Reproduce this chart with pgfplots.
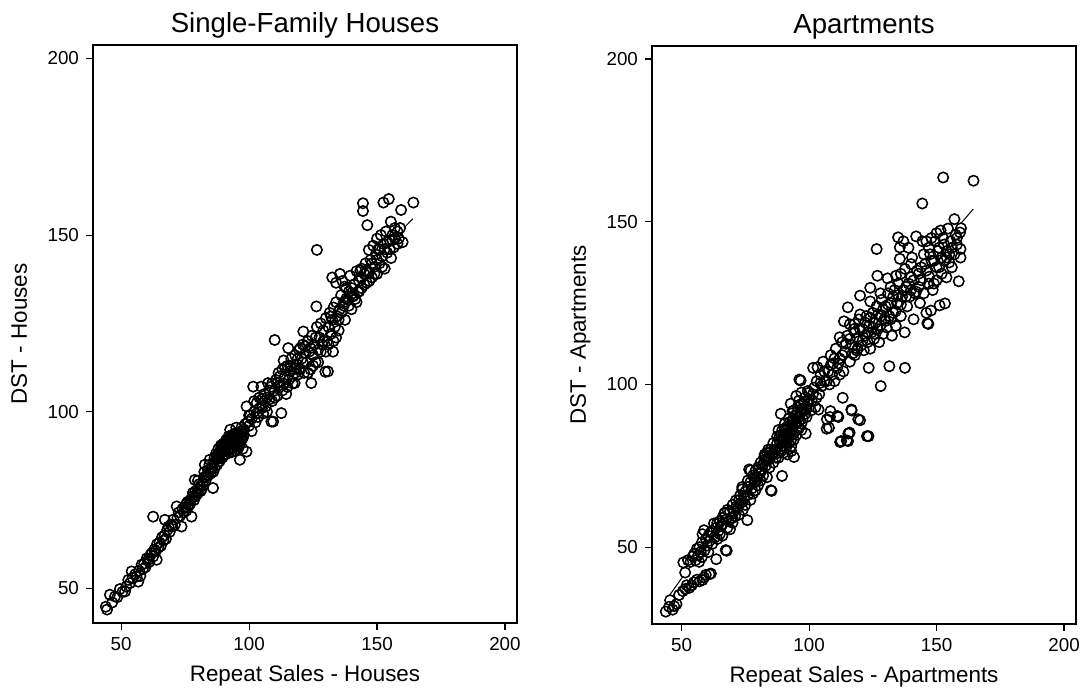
\documentclass[border=0pt]{standalone}
\usepackage{fontspec}
\setmainfont{Liberation Sans}
\usepackage{pgfplots}
\usepackage{pgfplotstable}
\pgfplotsset{compat=1.18}

% Repeat sales index vs DST index
\pgfplotstableread{
x y
44 44.8
44.5 44
45.6 48.2
46.5 46
47.6 47.7
48.5 47.5
49.5 49.8
50.5 49
51.5 49.1
52 50.5
52.8 52.4
53.5 51.5
54.1 54.8
54.5 53
55.5 54
56 53.3
56.7 51.9
57 55
57.5 53.5
58 56.7
58.5 55.5
59 57
59.5 56
60 58.5
60.6 58.1
61 57.5
61.5 59.5
62 60
62.5 70.3
62.5 59
63 61
63.5 60.5
63.9 58.1
64 62.5
64.5 61.5
65 63
65.5 62
66 64.5
66.5 63.5
67 65
67.1 69.4
67.5 64
68 66.5
68.5 67.5
69 66
69.5 68
70 67.5
70.5 69.5
71 68
71.7 73.2
72 70
72.5 71.5
73 70.5
73.6 67.5
74 72.5
74.5 71.5
75 73
75.5 72
75.5 74
76 74.5
76 73
76.5 73.5
77 75
77 74
77.5 70.3
78 76
78 77
78.5 75
78.8 80.7
79 77.5
79 76
79.5 76.5
80 78
80 77
80 80.5
80.5 79.5
81 77.5
81 79
81.4 77.9
82 80
82 79
82.5 81.5
82.5 83
82.7 85
83 80.5
83 81.5
83.5 82
84 83.5
84 82
84.5 85
84.6 86.4
85 82.5
85 84
85.5 84
85.9 78.4
86 85.5
86 83
86.5 84
86.5 87
87 86.5
87 88
87.5 85
87.5 87.5
87.5 86.5
88 87
88 89.5
88 88
88.5 86
88.5 88.5
88.5 87.5
89 88.5
89 90.5
89 89.5
89.5 87
89.5 90
89.5 88.5
90 89
90 91
90 90
90 87.5
90.5 88
90.5 91
90.5 89.5
91 90
91 92
91 91
91 88
91.5 89
91.5 91.5
91.5 90.5
92 91
92 93
92 92
92 88.5
92.5 89.5
92.5 92
92.5 91
92.6 94.9
93 91.5
93 88.5
93 93
93 90
93.5 92.5
93.5 93.5
93.5 90
94 90.5
94 93.5
94 92
94.5 89
94.5 93
94.5 91.5
95 92
95 94
95 91
95 95.5
95.5 90.5
95.5 92.5
95.5 89.5
96 93
96 91.5
96 90
96.4 86.4
96.5 91
96.5 93.5
97 94.5
97 92
97 93
97 95.5
97.5 89.5
97.5 92.5
98 95
98 93.5
98.5 96.5
99 88.7
99 101.5
99.6 97.2
100 96
100 99
100.5 99
101 94.5
101 98
101.6 107.1
102 100
102 103
102.5 97
103 102.5
103 99.5
103.5 98.5
104 101
104 104
104.8 107.1
105 103.5
105 101
105.5 99.5
106 105
106 103
106.5 101.5
107 104
107 100
107.4 108.1
108 106
108 103.5
108.7 97.2
108.7 107.1
109 103
109 108
109.4 97.2
110 120.3
110 106
110 104
110.5 109
111 104.5
111 108
111.5 111
112 107.5
112 110
112.6 99.6
113 112
113 106
113.5 114.5
113.5 108
114 110
114 112.5
114.5 105
115 113
115 107
115.3 118
115.5 109
116 111.5
116 113
116.5 115
117 108
117 110
117.5 112
117.8 108.1
118 116
118 111
118.5 113.5
119 110.5
119 115
119.5 117.5
120 112
120 118
120.5 115
121 119
121 114
121.2 122.7
121.5 111
122 116.5
122 118.5
122.5 114
123 120
123 111
123.5 117
124 112
124 118
124.3 108.1
124.5 121.5
125 116
125 113
125.5 119
126 114
126 121
126.3 129.8
126.5 124
126.5 145.8
127 117.5
127 114
127.5 121
128 125
128 117
128.5 119
129 123
129 120
129.8 111.3
130 126.5
130 117
130.5 120
130.8 111.4
131 124
131 119
131.5 128
132 122
132 127
132.5 126
132.5 138
132.8 117
133 129.5
133 120
133.5 124
134 131
134 121
134 136.5
134.5 127
135 123
135 126
135.5 129
135.5 139
136 133
136 128
136.5 137
137 130
137 131
137.3 135.4
137.5 126
138 132
138 135
138.6 131.7
139 134
139 130
139.5 138.5
140 129
140 135
140.6 132.6
141 136
141 133
141.5 131.9
142 139.8
142 131
142.5 134
143 137
143 134
143.5 140
144 135
144 138
144 140.5
144.5 159
144.5 156.8
145 139
145 136
145.5 142
146 136.5
146 140
146 139.5
146.2 152.8
146.8 145.8
147 139.5
147 137
147.5 143
148 138
148 142
148.5 147
149 141
149 139
149.5 144.5
150 149
150 139
150 143
150.5 146
151 142
151 146
151.5 150
152 144
152 141
152.5 159.2
152.5 147.5
153 140.5
153 146
153.5 151
154 145
154 148
154.6 160.2
155 148.5
155 146
155.4 153.8
155.5 143.5
156 150
156 148.5
156.5 146.5
157 152
157 149
158 147.5
158 151
158.5 149
159 152
159.4 157.1
160 148
164.2 159.2
}\housesdata

\pgfplotstableread{
x y
43.8 30.2
45.1 31.7
45.5 33.7
46.5 30.8
47.1 31.9
48 32.5
49 35.3
50.5 36.5
51.5 37.2
52 38.3
53 37.5
54 38.3
54.8 39.2
56 40
57 39.5
58.2 39.9
58.8 40.7
59.5 41.5
60.9 41.7
61.5 41.9
50.7 45.3
51.4 42.2
52.5 46
53.5 45.5
54.5 47.2
55 48
55.5 46
56 49.5
56.5 47.5
56.9 45.5
57 50
57.5 48.5
58 47
58 51.5
58.2 54
58.8 55.2
59 49
59.5 52.5
60 50.5
60.5 48.5
60.5 53.5
61 52
61.5 54.5
62 51
62 55
62.7 57.3
63 53
63.5 56
63.6 46.3
64 52.5
64 57.5
64.5 55
65 54
65 58
65.5 56.5
66 53.5
66 57
66 59
66.7 60.3
67 60.6
67.3 49.1
67.5 58.5
67.7 48.9
68 56
68 61.5
68.5 58
69 55.5
69 61
69.5 59
70 57.5
70 63
70 59
70.5 61
71 59.5
71.3 64.4
71.5 62.5
72 62
72.5 60
72.5 64.5
73 63.5
73 66
73.8 67.8
73.8 68.5
74 61.5
74 64
74.5 65
75 63
75 67
75.8 58.3
76 66
76 68.5
76 70.5
76.5 73.9
77 64.5
77 70
77.1 73.6
77.5 68
78 66.5
78 72
78.5 70
79 67.5
79 73.5
79 70
79.5 71.5
80 69
80 74.5
80.5 72.5
81 70.5
81 73
81 76
81.5 74
82 72
82 75.5
82.4 77.7
82.6 78.5
83 75
83 77
83.5 71.5
83.5 76.5
83.5 79
84 77
84 80
84.5 74.5
84.5 79
85 67.5
85 80
85.3 67.3
85.5 78.5
86 76
86 82
86 78.5
86.5 80
87 77.5
87 80
87.5 82
87.5 84
88 79
88 86
88 77.5
88.5 84
88.5 82.5
88.9 91
89 81
89 84.5
89 79.5
89.4 71.9
89.5 86
89.5 83
90 83
90 79
90 85
90 81
90.5 88
90.5 86.5
91 84.5
91 80.5
91 86
91 82.5
91.5 87
91.5 83.5
91.5 78.5
92 82
92 89.5
92 87
92 84
92.5 85
92.5 88.5
92.8 94.1
93 87.5
93 83
93 85.5
93 81
93 79.5
93.5 91.8
93.5 89
93.5 86.5
94 85
94 89.5
94 83
94.1 77.7
94 92
94.5 88
94.5 90.5
95 86
95 90.5
95 88
95 84.5
95 96.5
95.5 93
95.5 91.5
96 88.5
96 90
96 86.5
96 95
96.2 101.5
96.5 91
96.5 93.5
96.7 101.2
97 86
97 94
97 91.5
97 88
97 97.5
97.5 89.5
97.5 92.5
98 92
98 94.5
98.7 84.9
98.5 96
98.5 91
99 90
99 92.5
99.5 94
99.5 98
100 97.5
100 95.5
100.7 92
101 95
101.5 97
101.6 105.1
102 99
102.5 93
103 101
103 96
103.3 105.3
103.7 92.3
104 97
104.5 103
104.5 100.5
105 99.5
105.5 107
106 101
106 104
106.9 86.4
107 89.3
107 101
107.5 104
107.8 86.7
108 100
108.2 90
108.4 91.8
108.5 109
108.5 106
109 103
109.5 106.5
110 101
110 108
110.5 111
111 105
111.1 90.3
111.5 90
111.5 106.5
112 108
112 103
112 114.5
112.2 82.3
112.6 82.6
113 113
113 109
113.2 95.9
113.7 119.4
113.5 104
114 110
114.5 112.5
114.8 82.8
115 115
115.2 123.7
115.3 82.6
115.4 84.9
115.9 85.2
116 107
116 114
116 118.5
116.6 92.3
116.7 92
117 112
117 109.5
117.5 117
117.9 118.6
118 109
118 116
118.8 110.4
119 114
119 111
119.3 89.3
119.5 120
120 127.3
120 89
120 117
120 121.5
120.5 112
121 117
121 113.5
121.5 110.5
122 115
122 119
122.5 121
122.7 84.1
123 113
123 116
123.3 84.1
123.4 105.1
123.5 118
124 129.7
124 111
124 120.5
124 125.5
124.5 116
125 122
125 117.5
125.5 114
126 119
126 115.5
126.5 141.6
126.5 124
126.8 133.4
127 117
127 121.5
127.5 113
128 121
128 118
128 128
128.1 99.5
128.5 126
129 115.5
129 123
129.5 120
130 124
130 119.5
130.5 117.5
130.8 132.6
131 128
131 124.5
131.5 105.6
131.5 121
132 125
132 120
132 130
132.5 115
133 122
133 127
133.5 129
134 118
134 122.5
134.1 133.4
134.5 125
134.9 145.2
135 131
135 127.5
135.6 142.1
135.6 138.6
136 121
136 124.5
136 134
136.5 127
137 144
137 129
137.5 116
137.6 105.1
137.6 135.5
138 130
138 127
138.5 124
139 142
139 131
139.5 127
140 133
140 129
140 137
140.4 139
141 120
141 132
141.5 128
142 145.5
142 128.5
142.4 135
143 130
143 134
143.5 125
144 132
144 136
144.4 155.6
144.5 144
145 128
145 140
145.5 137
146 122
146 135
146 144
146.4 118.8
146.8 118.6
147 131
147 142
147.1 133.1
147.5 140
147.8 122.7
148 145
148 138
148.5 129
149 138
149 131
149.5 144
150 132
150 136
150 146.5
150.5 141
151 136
151 142
151.2 124.3
151.6 147.3
152 139
152 134
152.6 163.6
152.5 145
153 138
153 143
153.3 124.9
153.9 132.9
154 141
154 139
154.5 147.9
155 140
155 137.5
155.5 144
156 136
156 142
157 150.8
157 140
157.5 146
158 143
158 145
158.7 131.7
159.2 146.7
159.4 141.6
159.4 139
159.6 148
164.5 162.6
}\aptdata

\pgfplotsset{
  statapanel/.style={
    scale only axis,
    width=212pt, height=289pt,
    axis line style={line width=0.55pt},
    tick align=outside,
    major tick length=3.5pt,
    tick style={line width=0.55pt, black},
    xtick pos=bottom, ytick pos=left,
    xtick={50,100,150,200}, ytick={50,100,150,200},
    /pgf/number format/assume math mode=true,
    ticklabel style={font=\fontsize{9.4}{11}\selectfont},
    title style={at={(0.5,1)}, anchor=base, yshift=0.2pt,
      font=\fontsize{13.8}{16}\selectfont},
    xlabel style={at={(axis description cs:0.5,0)}, anchor=base, yshift=-29.3pt,
      font=\fontsize{11.2}{13}\selectfont},
    ylabel style={at={(axis description cs:-0.1557,0.5)}, anchor=base, rotate=0,
      font=\fontsize{11.2}{13}\selectfont},
    clip=false,
  },
  fitline/.style={black, line width=0.5pt, no marks},
  whitemask/.style={only marks, mark=*, mark size=2.6pt,
    mark options={draw=none, fill=white}},
  rings/.style={only marks, mark=o, mark size=2.6pt,
    mark options={black, line width=0.75pt}},
}

\begin{document}
\begin{tikzpicture}
\useasboundingbox (0,0) rectangle (543pt,344pt);

\begin{axis}[statapanel,
  at={(46.5pt,32.5pt)},
  xmin=39, xmax=204.7, ymin=40.2, ymax=203.8,
  title={Single-Family Houses},
  xlabel={Repeat Sales - Houses},
  ylabel={DST - Houses}]
  \addplot[fitline] coordinates {(44,45) (60,58.5) (80,78) (95,91.5) (110,106) (125,118) (140,133) (155,148) (160.3,151.9) (164,154.6)};
  \addplot[whitemask] table {\housesdata};
  \addplot[rings] table {\housesdata};
\end{axis}

\begin{axis}[statapanel,
  at={(326pt,32pt)},
  xmin=38.4, xmax=204.7, ymin=26.4, ymax=204,
  title={Apartments},
  xlabel={Repeat Sales - Apartments},
  ylabel={DST - Apartments}]
  \addplot[fitline] coordinates {(44.4,34.3) (52.3,42.9) (70,60.5) (90,82) (100,92) (120,113) (147,138) (164.4,153.9)};
  \addplot[whitemask] table {\aptdata};
  \addplot[rings] table {\aptdata};
\end{axis}
\end{tikzpicture}
\end{document}
